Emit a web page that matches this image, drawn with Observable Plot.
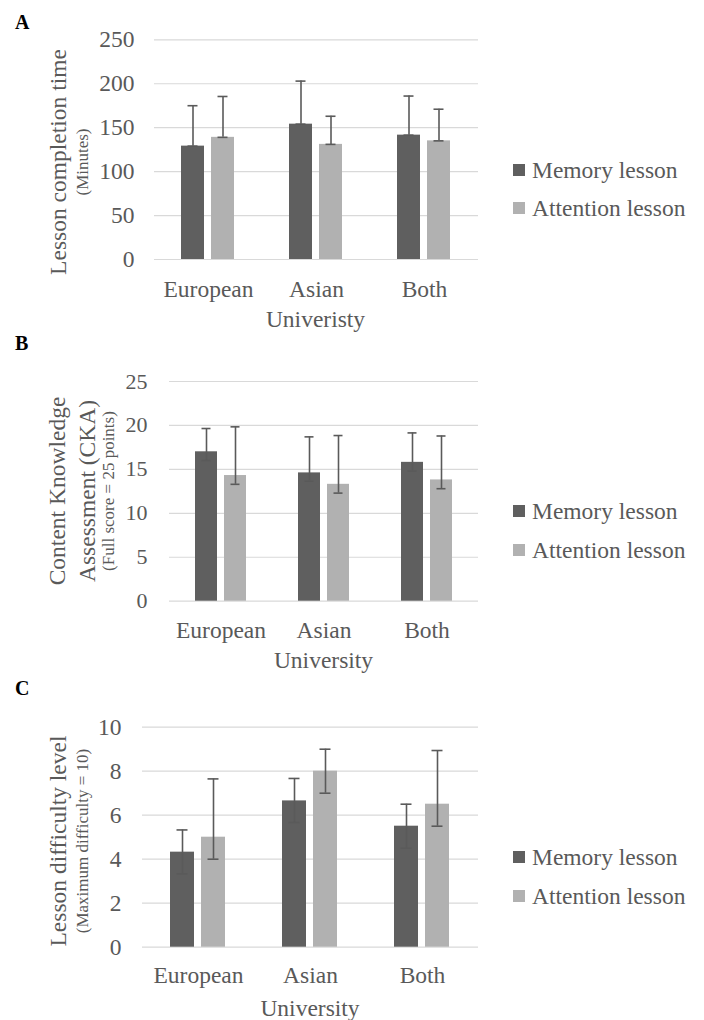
<!DOCTYPE html>
<html>
<head>
<meta charset="utf-8">
<script src="https://cdn.jsdelivr.net/npm/d3@7"></script>
<script src="https://cdn.jsdelivr.net/npm/@observablehq/plot@0.6"></script>
<style>
  html, body { margin: 0; padding: 0; background: #fff; }
  #wrap { position: relative; width: 704px; height: 1020px; overflow: hidden; }
  .panel { position: absolute; left: 0; }
  .panel svg { overflow: visible; }
</style>
</head>
<body>
<div id="wrap"></div>
<script>
// ---- data ----
const universities = ["European", "Asian", "Both"];
const lessons = ["Memory lesson", "Attention lesson"];
const lessonColors = ["#5f5f5f", "#b1b1b1"];

// Panel A: lesson completion time (minutes)
const timeMemory = [129, 154, 141.5];
const timeMemoryLow = [129, 154, 141.5];
const timeMemoryHigh = [175, 203, 186];
const timeAttention = [139, 131, 135];
const timeAttentionLow = [139, 131, 135];
const timeAttentionHigh = [185.5, 163, 171];
const timeTicks = [0, 50, 100, 150, 200, 250];

// Panel B: content knowledge assessment
const ckaMemory = [17.0, 14.6, 15.8];
const ckaMemoryLow = [16.0, 13.66, 14.8];
const ckaMemoryHigh = [19.65, 18.7, 19.15];
const ckaAttention = [14.3, 13.3, 13.8];
const ckaAttentionLow = [13.3, 12.3, 12.8];
const ckaAttentionHigh = [19.84, 18.85, 18.8];
const ckaTicks = [0, 5, 10, 15, 20, 25];

// Panel C: lesson difficulty level
const diffMemory = [4.32, 6.65, 5.5];
const diffMemoryLow = [3.33, 5.67, 4.5];
const diffMemoryHigh = [5.33, 7.67, 6.5];
const diffAttention = [5.0, 8.0, 6.5];
const diffAttentionLow = [4.0, 7.0, 5.5];
const diffAttentionHigh = [7.65, 9.0, 8.94];
const diffTicks = [0, 2, 4, 6, 8, 10];

function rows(mem, memLo, memHi, att, attLo, attHi) {
  const out = [];
  universities.forEach((u, i) => {
    out.push({uni: u, lesson: lessons[0], v: mem[i], lo: memLo[i], hi: memHi[i]});
    out.push({uni: u, lesson: lessons[1], v: att[i], lo: attLo[i], hi: attHi[i]});
  });
  return out;
}

const SERIF = "'Liberation Serif', 'Times New Roman', serif";

const panels = [
  {
    letter: "A", top: 0, height: 330, marginTop: 39.3, marginBottom: 71,
    marginLeft: 153, paddingInner: 0.226, paddingOuter: 0.86,
    data: rows(timeMemory, timeMemoryLow, timeMemoryHigh, timeAttention, timeAttentionLow, timeAttentionHigh),
    ticks: timeTicks, max: 250, tickFont: 23.5, tickPad: 20, fxPad: 21,
    titles: [{text: "Lesson completion time", x: 58, size: 23.5}, {text: "(Minutes)", x: 82, size: 17}],
    titleY: 162, xlabel: "Univeristy", xlabelY: 327.3, legendY: [170, 208], letterY: 29
  },
  {
    letter: "B", top: 330, height: 340, marginTop: 51, marginBottom: 69.3,
    marginLeft: 169, paddingInner: 0.236, paddingOuter: 0.852,
    data: rows(ckaMemory, ckaMemoryLow, ckaMemoryHigh, ckaAttention, ckaAttentionLow, ckaAttentionHigh),
    ticks: ckaTicks, max: 25, tickFont: 22, tickPad: 22, fxPad: 20,
    titles: [{text: "Content Knowledge", x: 57, size: 23.5}, {text: "Assessment (CKA)", x: 87, size: 23.5}, {text: "(Full score = 25 points)", x: 108, size: 17}],
    titleY: 161, xlabel: "University", xlabelY: 338.3, legendY: [181, 220], letterY: 20
  },
  {
    letter: "C", top: 670, height: 350, marginTop: 56.7, marginBottom: 73.3,
    marginLeft: 142, paddingInner: 0.219, paddingOuter: 0.86,
    data: rows(diffMemory, diffMemoryLow, diffMemoryHigh, diffAttention, diffAttentionLow, diffAttentionHigh),
    ticks: diffTicks, max: 10, tickFont: 23.5, tickPad: 21, fxPad: 19,
    titles: [{text: "Lesson difficulty level", x: 58, size: 23.5}, {text: "(Maximum difficulty = 10)", x: 82, size: 17}],
    titleY: 171, xlabel: "University", xlabelY: 345.5, legendY: [187, 226], letterY: 25
  }
];

const W = 704, frameRight = 478;
const textColor = "#595959";

for (const p of panels) {
  const chart = Plot.plot({
    width: W,
    height: p.height,
    marginTop: p.marginTop,
    marginBottom: p.marginBottom,
    marginLeft: p.marginLeft,
    marginRight: W - frameRight,
    style: {fontFamily: SERIF, color: textColor, background: "transparent", overflow: "visible"},
    fx: {domain: universities, padding: 0, label: null},
    x: {domain: lessons, paddingInner: p.paddingInner, paddingOuter: p.paddingOuter, axis: null},
    y: {domain: [0, p.max], axis: null},
    color: {domain: lessons, range: lessonColors},
    marks: [
      Plot.ruleY(p.ticks, {stroke: "#d9d9d9", strokeWidth: 1.2}),
      Plot.axisY({ticks: p.ticks, anchor: "left", tickSize: 0, tickPadding: p.tickPad,
                  fontSize: p.tickFont, fill: textColor, label: null, fontFamily: SERIF}),
      Plot.axisFx({anchor: "bottom", tickSize: 0, tickPadding: p.fxPad, fontSize: 23.5,
                   fill: textColor, label: null, fontFamily: SERIF}),
      Plot.barY(p.data, {fx: "uni", x: "lesson", y: "v", fill: "lesson"}),
      Plot.ruleX(p.data, {fx: "uni", x: "lesson", y1: "lo", y2: "hi", stroke: "#5a5a5a", strokeWidth: 1.6}),
      Plot.tickY(p.data, {fx: "uni", x: "lesson", y: "hi", stroke: "#5a5a5a", strokeWidth: 1.6, insetLeft: 6.5, insetRight: 6.5}),
      Plot.tickY(p.data, {fx: "uni", x: "lesson", y: "lo", stroke: "#5a5a5a", strokeWidth: 1.6, insetLeft: 6.5, insetRight: 6.5})
    ]
  });

  const div = document.createElement("div");
  div.className = "panel";
  div.style.top = p.top + "px";
  div.appendChild(chart);
  document.getElementById("wrap").appendChild(div);

  const svg = d3.select(chart);
  // panel letter
  svg.append("text").attr("x", 15).attr("y", p.letterY)
    .style("font-size", "20px").style("font-weight", "bold").style("fill", "#000")
    .style("font-family", SERIF).style("text-anchor", "start").text(p.letter);
  // y titles
  for (const t of p.titles) {
    svg.append("text")
      .attr("transform", `translate(${t.x},${p.titleY}) rotate(-90)`)
      .style("text-anchor", "middle").attr("dominant-baseline", "central")
      .style("font-size", t.size + "px").style("fill", textColor)
      .style("font-family", SERIF).text(t.text);
  }
  // x title
  const fc = (p.marginLeft + frameRight) / 2;
  svg.append("text").attr("x", fc).attr("y", p.xlabelY)
    .style("text-anchor", "middle").style("font-size", "23.5px").style("fill", textColor)
    .style("font-family", SERIF).text(p.xlabel);
  // legend
  lessons.forEach((l, i) => {
    const cy = p.legendY[i];
    svg.append("rect").attr("x", 513).attr("y", cy - 6).attr("width", 12).attr("height", 12)
      .attr("fill", lessonColors[i]);
    svg.append("text").attr("x", 532).attr("y", cy).attr("dominant-baseline", "central")
      .style("text-anchor", "start")
      .style("font-size", "23.5px").style("fill", textColor)
      .style("font-family", SERIF).text(l);
  });
}
</script>
</body>
</html>
